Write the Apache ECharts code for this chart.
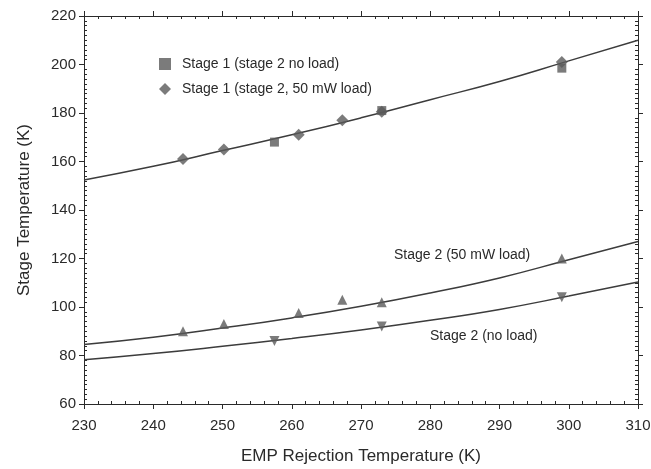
<!DOCTYPE html>
<html><head><meta charset="utf-8">
<script src="https://cdn.jsdelivr.net/npm/echarts@6/dist/echarts.min.js"></script>
<style>html,body{margin:0;padding:0;background:#fff}#c{width:651px;height:469px}</style>
</head><body><div id="c"></div>
<script>
// Measured data points
const s1NoLoad = [[257.5, 168], [273, 181], [299, 198.5]];
const s1Load = [[244.3, 161], [250.2, 165], [261, 171], [267.3, 177], [273, 180.5], [299, 201]];
const s2Load = [[244.3, 90], [250.2, 93], [261, 97.5], [267.3, 103], [273, 102], [299, 120]];
const s2NoLoad = [[257.5, 86], [273, 92], [299, 104]];
// Fitted curves
const fitX = [230, 240, 250, 260, 270, 280, 290, 300, 310];
const fitS1 = [152.4, 158, 164.5, 171, 178, 185.5, 193, 201.5, 210];
const fitS2Load = [84.5, 87.5, 91.3, 95.5, 100.3, 105.8, 112, 119.5, 127];
const fitS2NoLoad = [78.2, 80.8, 83.8, 87, 90.5, 94.5, 99, 104.5, 110.3];
const legendNames = ['Stage 1 (stage 2 no load)', 'Stage 1 (stage 2, 50 mW load)'];
const annoLoad = 'Stage 2 (50 mW load)';
const annoNoLoad = 'Stage 2 (no load)';
const xTitle = 'EMP Rejection Temperature (K)';
const yTitle = 'Stage Temperature (K)';

const F = 'Liberation Sans, Arial, sans-serif';
const ink = '#2a2a2a';
const markC = '#5a5a5a';
const lineC = '#3c3c3c';
const zip = (xs, ys) => xs.map((x, i) => [x, ys[i]]);

const g = {left: 84, right: 13, top: 16, bottom: 65, containLabel: false, outerBoundsMode: 'none'};
function xAx(grid, pos, major) {
  return {
    type: 'value', gridIndex: grid, position: pos, min: 230, max: 310, interval: 10,
    splitLine: {show: false},
    axisLine: {show: major, onZero: false, lineStyle: {color: ink, width: 1}},
    axisTick: {show: major, inside: !major, length: 5, lineStyle: {color: ink}},
    minorTick: {show: !major, splitNumber: 5, length: 3, lineStyle: {color: ink}},
    axisLabel: {show: major && pos === 'bottom', color: ink, fontFamily: F, fontSize: 15, margin: 14},
    name: major && pos === 'bottom' ? xTitle : '', nameLocation: 'middle', nameGap: 44,
    nameTextStyle: {color: ink, fontFamily: F, fontSize: 17}
  };
}
function yAx(grid, pos, major) {
  return {
    type: 'value', gridIndex: grid, position: pos, min: 60, max: 220, interval: 20,
    splitLine: {show: false},
    axisLine: {show: major, onZero: false, lineStyle: {color: ink, width: 1}},
    axisTick: {show: major, inside: !major, length: 5, lineStyle: {color: ink}},
    minorTick: {show: !major, splitNumber: 10, length: 3, lineStyle: {color: ink}},
    axisLabel: {show: major && pos === 'left', color: ink, fontFamily: F, fontSize: 15, margin: 8},
    name: major && pos === 'left' ? yTitle : '', nameLocation: 'middle', nameGap: 51,
    nameTextStyle: {color: ink, fontFamily: F, fontSize: 17}
  };
}
function fit(name, data) {
  return {name: name, type: 'line', data: data, smooth: true, showSymbol: false, silent: true,
    lineStyle: {color: lineC, width: 1.5}, z: 2};
}
const option = {
  animation: false,
  backgroundColor: '#fff',
  grid: [Object.assign({}, g), Object.assign({}, g)],
  xAxis: [xAx(0, 'bottom', true), xAx(0, 'top', true), xAx(1, 'bottom', false), xAx(1, 'top', false)],
  yAxis: [yAx(0, 'left', true), yAx(0, 'right', true), yAx(1, 'left', false), yAx(1, 'right', false)],
  legend: {
    orient: 'vertical', left: 154, top: 52, itemGap: 11, itemWidth: 12, itemHeight: 12,
    data: [{name: legendNames[0], icon: 'rect', itemStyle: {color: markC}},
           {name: legendNames[1], icon: 'diamond', itemStyle: {color: markC}}],
    textStyle: {color: ink, fontFamily: F, fontSize: 14, padding: [0, 0, 0, 6]}
  },
  graphic: [
    {type: 'text', left: 394, top: 248, style: {text: annoLoad, fill: ink, font: '14px ' + F}},
    {type: 'text', left: 430, top: 329, style: {text: annoNoLoad, fill: ink, font: '14px ' + F}}
  ],
  series: [
    fit('fit1', zip(fitX, fitS1)),
    fit('fit2', zip(fitX, fitS2Load)),
    fit('fit3', zip(fitX, fitS2NoLoad)),
    {name: legendNames[0], type: 'scatter', data: s1NoLoad, symbol: 'rect', symbolSize: 9,
      itemStyle: {color: markC}, z: 3},
    {name: legendNames[1], type: 'scatter', data: s1Load, symbol: 'diamond', symbolSize: 12,
      itemStyle: {color: markC}, z: 4},
    {name: 's2load', type: 'scatter', data: s2Load, symbol: 'triangle', symbolSize: 10,
      itemStyle: {color: markC}, z: 3},
    {name: 's2noload', type: 'scatter', data: s2NoLoad, symbol: 'triangle', symbolRotate: 180, symbolSize: 10,
      itemStyle: {color: markC}, z: 3}
  ]
};
echarts.init(document.getElementById('c'), null, {renderer: 'canvas'}).setOption(option);
</script></body></html>
